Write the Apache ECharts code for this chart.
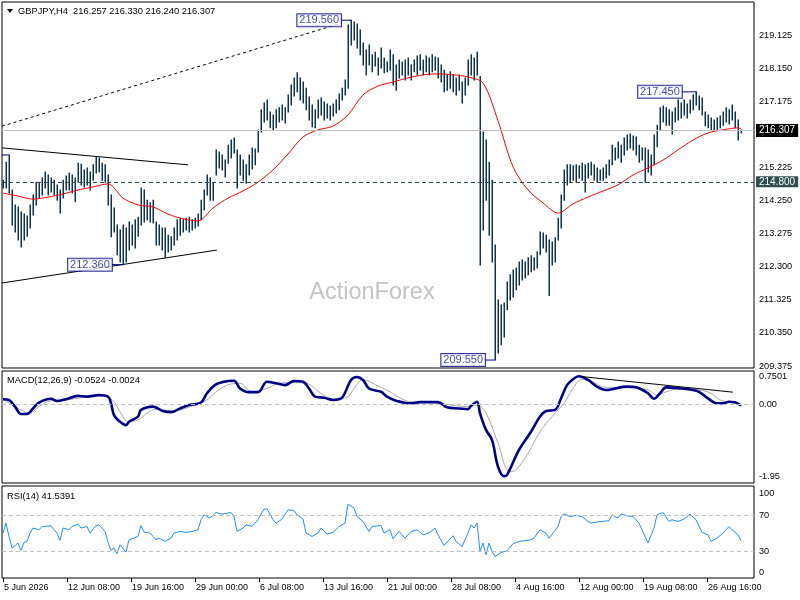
<!DOCTYPE html>
<html><head><meta charset="utf-8">
<script src="https://cdn.jsdelivr.net/npm/echarts@6/dist/echarts.min.js"></script>
<style>html,body{margin:0;padding:0;background:#fff}#c{width:800px;height:600px}</style>
</head><body><div id="c"></div>
<script>
// ---------- DATA ----------
const symbolName = 'GBPJPY,H4';
const lastOHLC = [216.257, 216.330, 216.240, 216.307];
const macdLast = [-0.0524, -0.0024];
const rsiLast = 41.5391;
const currentPrice = 216.307;
const supportLevel = 214.80;

const barHigh = [
214.85,215.38,215.59,214.56,214.12,214.06,213.91,213.85,213.79,214.12,
214.41,214.79,214.79,214.91,215.09,215.00,214.91,214.85,214.71,214.56,
214.85,214.97,215.06,215.00,214.91,215.35,215.32,215.15,215.21,215.09,
215.30,215.53,215.50,215.35,215.30,215.00,214.41,214.03,213.53,213.38,
213.53,213.44,213.62,213.53,213.68,213.76,214.62,214.56,214.26,214.18,
214.26,213.62,213.53,213.44,213.44,213.23,213.18,213.44,213.68,213.73,
213.68,213.73,213.76,213.68,213.73,213.85,214.26,214.56,215.00,214.91,
214.76,215.74,215.68,215.59,215.44,215.88,216.03,216.09,215.74,215.59,
215.44,215.30,215.59,215.80,215.77,216.33,216.92,217.12,217.21,216.86,
216.77,216.92,216.98,217.06,216.98,217.36,217.65,217.86,218.01,217.86,
217.74,217.56,217.30,217.06,216.92,217.21,217.27,217.15,217.09,217.03,
217.09,217.21,217.39,217.56,217.80,219.42,219.56,219.51,219.45,219.27,
218.89,218.68,218.83,218.54,218.62,218.45,218.74,218.45,218.33,218.68,
218.54,218.24,218.39,218.33,218.39,218.45,218.24,218.39,218.51,218.54,
218.39,218.51,218.45,218.54,218.48,218.45,218.24,218.09,217.95,218.04,
217.95,217.86,217.95,217.74,217.86,218.39,218.54,218.45,218.62,217.90,
216.27,216.03,215.38,214.85,212.94,211.32,211.17,211.23,211.85,212.06,
212.20,212.26,212.44,212.50,212.44,212.56,212.62,212.56,212.73,213.32,
213.29,213.23,213.09,213.03,213.15,213.73,214.41,215.15,215.30,215.30,
215.27,215.30,215.27,215.35,215.30,215.35,215.38,215.30,215.21,215.15,
215.21,215.30,215.44,215.88,215.80,215.97,215.88,216.09,216.18,216.21,
216.15,216.12,215.88,215.80,215.80,215.74,215.59,216.18,216.47,216.98,
217.03,216.98,216.92,216.86,216.98,217.21,217.12,217.21,217.09,217.21,
217.36,217.45,217.33,217.27,216.86,216.77,216.68,216.62,216.68,216.74,
216.86,216.98,216.92,217.06,216.86,216.62,216.33];
const barLow = [
214.62,214.62,214.47,213.53,213.32,213.09,212.88,213.09,213.20,213.44,
213.82,214.12,214.32,214.41,214.62,214.41,214.50,214.41,214.26,213.88,
214.32,214.56,214.56,214.47,214.21,214.79,214.71,214.65,214.71,214.56,
214.85,215.06,215.09,214.85,214.79,214.12,213.18,213.32,212.65,212.44,
212.36,212.44,212.79,212.94,212.85,213.20,213.53,213.62,213.68,213.62,
213.59,212.94,212.94,212.79,212.56,212.73,212.79,212.94,213.09,213.23,
213.32,213.38,213.32,213.38,213.44,213.50,213.68,213.97,214.41,214.26,
214.26,215.00,215.21,215.15,214.94,215.35,215.50,215.65,214.62,215.00,
214.85,214.76,215.00,215.18,215.30,215.68,216.27,216.56,216.62,216.39,
216.33,216.39,216.56,216.62,216.53,216.86,217.06,217.33,217.45,217.21,
217.12,216.92,216.62,216.42,216.39,216.68,216.77,216.62,216.68,216.62,
216.74,216.83,216.92,217.21,217.36,217.56,218.83,218.98,218.74,218.54,
218.24,217.95,218.24,218.04,218.21,217.95,218.15,218.01,218.04,218.09,
217.65,217.50,217.86,217.95,217.80,217.95,217.80,218.04,217.95,218.09,
217.95,218.04,217.95,218.04,218.09,217.86,217.74,217.45,217.50,217.56,
217.45,217.36,217.50,217.12,217.36,217.65,217.95,217.80,217.95,212.35,
213.38,214.26,213.23,212.44,209.55,209.76,210.00,210.23,211.03,211.32,
211.41,211.62,211.76,211.91,211.97,212.06,212.15,212.20,212.26,212.65,
212.85,212.73,211.45,212.35,212.44,213.09,213.44,214.26,214.71,214.79,
214.85,214.79,214.91,214.85,214.50,214.91,215.00,214.85,214.79,214.85,
214.85,214.91,215.00,215.30,215.44,215.50,215.38,215.59,215.74,215.80,
215.74,215.59,215.38,215.44,214.79,215.09,215.00,215.30,215.83,216.33,
216.56,216.47,216.47,216.21,216.56,216.62,216.68,216.77,216.68,216.83,
216.92,217.06,216.92,216.77,216.45,216.39,216.33,216.30,216.33,216.39,
216.47,216.56,216.50,216.62,216.39,216.03,216.24];

// red moving average, [bar index, price]
const maPts = [[0,214.47],[5,214.38],[10,214.29],[15,214.35],[20,214.44],[25,214.56],[30,214.65],[35,214.74],
[40,214.32],[45,214.12],[50,214.06],[55,213.85],[60,213.71],[65,213.65],[70,214.03],[75,214.32],[80,214.53],
[85,214.79],[90,215.15],[95,215.62],[100,216.12],[105,216.33],[110,216.44],[115,216.77],[120,217.36],
[125,217.62],[130,217.74],[135,217.86],[140,217.95],[145,217.98],[150,217.95],[155,217.89],[160,217.71],
[165,216.60],[170,215.24],[175,214.56],[180,214.18],[185,213.88],[190,214.15],[195,214.35],[200,214.53],
[205,214.71],[210,215.00],[215,215.21],[220,215.44],[225,215.74],[230,216.03],[235,216.24],[240,216.33],
[245,216.39],[246,216.36]];

const macdPts = [[0,0.13],[2,0.11],[4,-0.07],[6,-0.27],[8,-0.27],[10,-0.12],[12,0.04],[16,0.14],[18,0.08],
[21,0.13],[25,0.22],[28,0.20],[32,0.24],[35,0.20],[36,0.02],[37,-0.30],[39,-0.48],[41,-0.57],[42,-0.48],
[45,-0.34],[46,-0.16],[50,-0.07],[53,-0.18],[56,-0.22],[59,-0.12],[62,-0.03],[66,0.04],[68,0.29],[71,0.53],
[75,0.62],[77,0.63],[79,0.42],[82,0.32],[85,0.32],[88,0.60],[91,0.56],[94,0.51],[97,0.62],[100,0.60],
[102,0.42],[104,0.20],[107,0.17],[110,0.11],[113,0.17],[116,0.65],[118,0.73],[120,0.65],[122,0.42],
[126,0.33],[128,0.20],[131,0.09],[136,0.02],[139,0.05],[145,0.05],[148,-0.09],[152,-0.12],[155,-0.14],
[156,-0.05],[158,0.06],[159,-0.25],[161,-0.70],[163,-0.97],[165,-1.69],[167,-1.95],[168,-1.92],[172,-1.24],
[176,-0.75],[179,-0.34],[181,-0.19],[184,-0.16],[186,0.15],[188,0.51],[190,0.67],[192,0.75],[195,0.65],
[198,0.47],[201,0.38],[203,0.40],[208,0.47],[211,0.45],[215,0.29],[217,0.14],[219,0.29],[221,0.45],
[226,0.42],[230,0.38],[232,0.33],[235,0.15],[238,0.02],[240,0.02],[242,0.06],[244,0.05],[246,-0.05]];

const signalPts = [[0,0.13],[6,-0.16],[9,-0.24],[12,-0.07],[16,0.09],[21,0.11],[27,0.18],[33,0.24],[37,0.06],
[39,-0.21],[42,-0.48],[45,-0.43],[48,-0.25],[51,-0.14],[56,-0.18],[59,-0.16],[65,0.02],[68,0.11],[71,0.33],
[76,0.54],[79,0.56],[83,0.33],[88,0.42],[92,0.56],[97,0.58],[101,0.56],[106,0.29],[110,0.13],[115,0.20],
[117,0.42],[120,0.65],[125,0.49],[129,0.33],[132,0.18],[136,0.06],[141,0.06],[147,0.00],[155,-0.07],
[158,-0.03],[161,-0.25],[165,-1.06],[169,-1.83],[171,-1.78],[175,-1.33],[179,-0.75],[183,-0.34],[187,0.02],
[190,0.42],[193,0.67],[197,0.58],[201,0.45],[208,0.45],[215,0.38],[218,0.24],[221,0.33],[226,0.42],
[232,0.38],[236,0.29],[239,0.11],[243,0.04],[246,0.00]];

const rsiPts = [[0,50.0],[1,61.1],[2,46.2],[3,33.3],[5,38.9],[6,30.7],[7,39.6],[8,40.7],[9,50.0],[10,55.6],
[12,53.7],[13,57.3],[16,58.1],[17,53.7],[18,50.0],[19,41.8],[20,55.6],[22,53.7],[23,57.3],[25,60.0],[26,55.6],
[28,57.3],[29,50.0],[31,58.4],[32,59.2],[34,51.8],[35,39.6],[36,30.7],[37,33.3],[38,27.0],[39,37.0],[41,28.9],
[42,42.6],[43,43.7],[45,46.2],[46,58.4],[47,51.1],[49,50.0],[51,42.6],[52,44.4],[54,40.7],[56,44.4],[57,50.0],
[59,51.8],[61,50.7],[63,51.8],[65,53.7],[66,64.8],[67,70.3],[69,66.7],[71,72.9],[73,71.1],[76,72.9],[77,68.4],
[78,51.8],[80,55.6],[81,59.2],[83,57.3],[85,64.8],[87,76.7],[88,77.0],[90,64.8],[91,61.1],[93,65.6],[95,75.9],
[97,75.1],[98,70.3],[100,65.6],[101,50.0],[103,46.2],[105,50.0],[106,55.6],[108,48.9],[110,50.7],[112,57.3],
[114,61.1],[115,82.2],[117,77.8],[118,68.4],[120,62.9],[122,51.8],[123,57.3],[126,58.4],[127,50.0],[129,53.7],
[130,43.7],[132,51.8],[134,44.4],[136,51.8],[138,53.7],[140,48.1],[142,50.0],[144,55.6],[145,48.1],[147,36.2],
[150,47.0],[151,40.7],[153,35.1],[155,50.0],[156,59.2],[157,55.6],[158,61.1],[159,30.0],[160,38.9],[161,25.9],
[162,38.9],[163,29.6],[164,24.0],[166,28.4],[168,30.3],[170,38.1],[172,40.7],[176,42.6],[177,44.4],[179,53.7],
[181,50.0],[182,44.4],[185,57.3],[186,68.4],[187,71.4],[189,68.4],[191,69.6],[193,68.4],[195,62.9],[196,61.1],
[199,62.9],[202,63.7],[203,70.3],[205,66.7],[206,71.4],[208,69.2],[210,68.4],[212,61.1],[213,53.7],[215,38.9],
[217,55.6],[218,70.3],[220,72.9],[222,62.9],[223,64.8],[225,62.9],[227,65.6],[229,71.1],[231,64.8],[233,50.7],
[235,48.1],[236,40.7],[238,44.4],[240,50.0],[242,57.3],[243,53.7],[245,48.1],[246,41.5]];

// annotation lines: [bar index, value]
const dottedChannel = [[-0.33,216.44],[113,219.48]];
const triangleUpper = [[-0.33,215.80],[61.7,215.30]];
const triangleLower = [[-0.33,211.82],[71.3,212.79]];
const macdTrend = [[193,0.74],[243.3,0.32]];
const leftMarker = [[-0.33,215.59],[2,215.59]];
// swing labels: text, price, box anchor (bar idx), bar idx
const swingLabels = [
  ['219.560', 219.56, 112.7, 116],
  ['212.360', 212.36, 36.3, 40],
  ['209.550', 209.55, 160.7, 164],
  ['217.450', 217.45, 226.3, 231]
];

const priceTicks = [209.375,210.350,211.325,212.300,213.275,214.250,215.225,217.175,218.150,219.125];
const macdTicks = [0.7501, 0, -1.95];
const rsiTickLabels = ['100','70','30','0'];
const timeLabels = ['5 Jun 2026','12 Jun 08:00','19 Jun 16:00','29 Jun 00:00','6 Jul 08:00','13 Jul 16:00',
  '21 Jul 00:00','28 Jul 08:00','4 Aug 16:00','12 Aug 00:00','19 Aug 08:00','26 Aug 16:00'];

// ---------- CHART ----------
const FONT = '"Liberation Sans", Arial, sans-serif';
const XMIN = -1/3, XMAX = XMIN + 752/3;
const TICK_STEP = 64/3;
const timeTickVals = timeLabels.map((_, k) => k * TICK_STEP);
const rsiTickVals = [94.6, 70, 30, 6.7];

const chart = echarts.init(document.getElementById('c'));

function xAx(gi, withLabels) {
  return {
    type: 'value', gridIndex: gi, min: XMIN, max: XMAX,
    splitLine: {show: false}, axisLine: {show: false},
    axisTick: withLabels ? {show: true, customValues: timeTickVals, length: 4, lineStyle: {color: '#000'}} : {show: false},
    axisLabel: withLabels ? {
      show: true, customValues: timeTickVals, align: 'left', margin: 5,
      fontSize: 9, fontFamily: FONT, color: '#000', padding: [0,0,0,1],
      formatter: v => timeLabels[Math.round(v / TICK_STEP)] || ''
    } : {show: false}
  };
}
function yAx(gi, min, max, ticks, fmt) {
  return {
    type: 'value', gridIndex: gi, min: min, max: max, position: 'right',
    splitLine: {show: false}, axisLine: {show: false},
    axisTick: {show: false},
    axisLabel: {show: true, customValues: ticks, margin: 5, fontSize: 9.2, fontFamily: FONT, color: '#000', formatter: fmt}
  };
}

const gridBase = {show: true, borderColor: '#000', borderWidth: 1, left: 2, width: 752, containLabel: false, outerBoundsMode: 'none'};

const series = [];
// horizontal price lines (behind bars)
series.push({
  type: 'line', xAxisIndex: 0, yAxisIndex: 0, data: [], z: 1, silent: true,
  markLine: {
    symbol: 'none', silent: true, animation: false,
    data: [
      {yAxis: currentPrice, lineStyle: {color: '#c0c0c0', type: 'solid', width: 1},
       label: {show: true, position: 'end', distance: 2, formatter: currentPrice.toFixed(3), color: '#fff',
         backgroundColor: '#000', padding: [2,3,1,3], fontSize: 10, fontFamily: FONT}},
      {yAxis: supportLevel, lineStyle: {color: '#2f4f4f', type: [4,3], width: 1},
       label: {show: true, position: 'end', distance: 2, formatter: supportLevel.toFixed(3), color: '#fff',
         backgroundColor: '#2f4f4f', padding: [1,3,0,3], fontSize: 10, fontFamily: FONT}}
    ]
  }
});
// trend lines main
const lineSer = (pts, color, type, z, ax) => ({
  type: 'line', xAxisIndex: ax || 0, yAxisIndex: ax || 0, data: pts, symbol: 'none', silent: true, z: z,
  lineStyle: {color: color, width: 1, type: type}, animation: false
});
series.push(lineSer(dottedChannel, '#000', [3,3], 2));
series.push(lineSer(triangleUpper, '#000', 'solid', 2));
series.push(lineSer(triangleLower, '#000', 'solid', 2));
series.push(lineSer(leftMarker, '#00008b', 'solid', 2));
// OHLC bars (high-low stems)
series.push({
  type: 'custom', xAxisIndex: 0, yAxisIndex: 0, z: 3, silent: true, animation: false,
  data: barHigh.map((h, i) => [i, barLow[i], h]),
  encode: {x: 0, y: [1, 2]},
  renderItem: (params, api) => {
    const lo = api.coord([api.value(0), api.value(1)]);
    const hi = api.coord([api.value(0), api.value(2)]);
    const x = Math.round(lo[0]) + 0.25;
    return {type: 'line', shape: {x1: x, y1: lo[1] + 0.5, x2: x, y2: hi[1] - 0.5},
      style: {stroke: '#0c3554', lineWidth: 1.5}};
  }
});
// MA
series.push({type: 'line', xAxisIndex: 0, yAxisIndex: 0, data: maPts, symbol: 'none', smooth: 0.3, z: 4,
  silent: true, animation: false, lineStyle: {color: '#ff0000', width: 1}});
// swing labels + connectors
swingLabels.forEach(s => {
  series.push(lineSer([[s[2], s[1]], [s[3], s[1]]], '#00008b', 'solid', 5));
});
series.push({
  type: 'scatter', xAxisIndex: 0, yAxisIndex: 0, z: 6, silent: true, animation: false,
  symbol: 'rect', symbolSize: 0.1, itemStyle: {color: 'rgba(0,0,0,0)'},
  data: swingLabels.map(s => ({value: [s[2], s[1]], name: s[0]})),
  label: {show: true, position: 'left', distance: 0, formatter: p => p.name, color: '#1414a0',
    fontSize: 11, fontFamily: FONT, backgroundColor: '#fff', borderColor: '#00008b', borderWidth: 1,
    padding: [1,2,0,2]}
});
// MACD
series.push({type: 'line', xAxisIndex: 1, yAxisIndex: 1, data: [], z: 1, silent: true,
  markLine: {symbol: 'none', silent: true, animation: false, label: {show: false},
    data: [{yAxis: 0, lineStyle: {color: '#c0c0c0', type: [4,3], width: 1}}]}});
series.push({type: 'line', xAxisIndex: 1, yAxisIndex: 1, data: signalPts, symbol: 'none', smooth: 0.4, z: 3,
  silent: true, animation: false, lineStyle: {color: '#aaaaaa', width: 1}});
series.push({type: 'line', xAxisIndex: 1, yAxisIndex: 1, data: macdPts, symbol: 'none', smooth: 0.35, z: 4,
  silent: true, animation: false, lineStyle: {color: '#00008b', width: 2.6}});
series.push(lineSer(macdTrend, '#000', 'solid', 5, 1));
// RSI
series.push({type: 'line', xAxisIndex: 2, yAxisIndex: 2, data: rsiPts, symbol: 'none', z: 3,
  silent: true, animation: false, lineStyle: {color: '#1e90ff', width: 1},
  markLine: {symbol: 'none', silent: true, animation: false, label: {show: false},
    data: [{yAxis: 70}, {yAxis: 30}], lineStyle: {color: '#c0c0c0', type: [4,3], width: 1}}});

const macdFmt = v => v > 0.5 ? '0.7501' : (v < -1 ? '-1.95' : '0.00');
const rsiFmt = v => v > 90 ? '100' : (v < 10 ? '0' : String(Math.round(v)));

chart.setOption({
  animation: false,
  backgroundColor: '#fff',
  grid: [
    Object.assign({}, gridBase, {top: 2, height: 366}),
    Object.assign({}, gridBase, {top: 371, height: 112}),
    Object.assign({}, gridBase, {top: 486, height: 92})
  ],
  xAxis: [xAx(0, false), xAx(1, false), xAx(2, true)],
  yAxis: [
    yAx(0, 209.316, 220.097, priceTicks, v => v.toFixed(3)),
    yAx(1, -2.135, 0.892, macdTicks, macdFmt),
    yAx(2, 0, 102.4, rsiTickVals, rsiFmt)
  ],
  graphic: [
    {type: 'polygon', shape: {points: [[7,9],[13,9],[10,13]]}, style: {fill: '#000'}},
    {type: 'text', x: 18, y: 11, style: {text: symbolName + '  ' + lastOHLC.map(v => v.toFixed(3)).join(' '),
      font: '9.3px ' + FONT, fill: '#000', textVerticalAlign: 'middle'}},
    {type: 'text', x: 7, y: 380, style: {text: 'MACD(12,26,9) ' + macdLast[0].toFixed(4) + ' ' + macdLast[1].toFixed(4),
      font: '9.3px ' + FONT, fill: '#000', textVerticalAlign: 'middle'}},
    {type: 'text', x: 7, y: 496, style: {text: 'RSI(14) ' + rsiLast.toFixed(4),
      font: '9.3px ' + FONT, fill: '#000', textVerticalAlign: 'middle'}},
    {type: 'text', x: 372, y: 293, z: -1, style: {text: 'ActionForex', font: '23.5px ' + FONT, fill: '#c4c4c4',
      textAlign: 'center', textVerticalAlign: 'middle'}}
  ],
  series: series
});
</script>
</body></html>
